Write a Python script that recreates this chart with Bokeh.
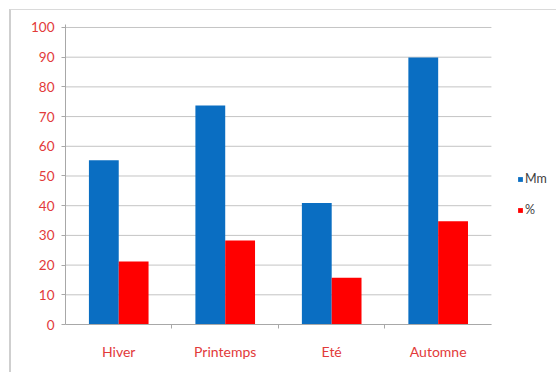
import numpy as np
from bokeh.plotting import figure
from bokeh.models import (ColumnDataSource, Range1d, Legend, LegendItem,
                          LinearAxis, FixedTicker)
from bokeh.embed import file_html
from bokeh.resources import INLINE

# Seasonal rainfall: millimetres and share of the yearly total
seasons = ["Hiver", "Printemps", "Eté", "Automne"]
mm = [55.3, 73.7, 40.9, 89.9]
pct = [21.2, 28.3, 15.7, 34.8]
y_ticks = list(range(0, 101, 10))

FONT = "Lato"
LABEL_RED = "#E23A3A"
GRID = "#C4C4C4"
AXIS = "#A8A8A8"
BAR_W = 0.28

n = len(seasons)
centers = np.arange(n) + 0.5
source = ColumnDataSource(data=dict(
    season=seasons, mm=mm, pct=pct,
    x_mm=centers - BAR_W / 2, x_pct=centers + BAR_W / 2,
))

p = figure(
    x_range=Range1d(0, 4.63),
    y_range=Range1d(0, 101),
    width=547, height=363,
    min_border_left=54, min_border_right=0, min_border_top=14, min_border_bottom=49,
    output_backend="svg", toolbar_location=None,
    x_axis_location=None, y_axis_location=None,
)
p.styles = {"margin-left": "9px", "margin-top": "9px",
            "border-left": "2px solid #CFCFCF", "border-top": "1px solid #DADADA"}
p.outline_line_color = None
p.background_fill_color = "white"
p.border_fill_color = "white"
p.xgrid.visible = False
p.ygrid.visible = False

# Horizontal gridlines spanning the category area only
p.segment(x0=0, x1=n, y0=y_ticks, y1=y_ticks, line_color=GRID, line_width=1)

# Vertical axis with outside ticks
yax = LinearAxis(ticker=FixedTicker(ticks=y_ticks))
yax.axis_line_color = AXIS
yax.major_tick_line_color = AXIS
yax.major_tick_out = 4
yax.major_tick_in = 0
yax.minor_tick_line_color = None
yax.major_label_text_color = LABEL_RED
yax.major_label_text_font = FONT
yax.major_label_text_font_size = "13.5px"
yax.major_label_standoff = 7
p.add_layout(yax, "left")

# Baseline with tick marks between categories (labels not drawn)
tick_axis = LinearAxis(ticker=FixedTicker(ticks=list(range(1, n))), bounds=(0, n))
tick_axis.axis_line_color = AXIS
tick_axis.major_tick_line_color = AXIS
tick_axis.major_tick_out = 4
tick_axis.major_tick_in = 0
tick_axis.minor_tick_line_color = None
tick_axis.major_label_text_color = None
tick_axis.major_label_text_font_size = "1px"
tick_axis.major_label_standoff = 0
p.add_layout(tick_axis, "below")

# Category labels under each pair of bars
cat_axis = LinearAxis(ticker=FixedTicker(ticks=list(centers)))
cat_axis.major_label_overrides = {float(c): s for c, s in zip(centers, seasons)}
cat_axis.axis_line_color = None
cat_axis.major_tick_line_color = None
cat_axis.minor_tick_line_color = None
cat_axis.major_label_text_color = LABEL_RED
cat_axis.major_label_text_font = FONT
cat_axis.major_label_text_font_size = "14px"
cat_axis.major_label_standoff = 8
p.add_layout(cat_axis, "below")

r_mm = p.vbar(x="x_mm", top="mm", width=BAR_W, source=source,
              fill_color="#0A6EC2", line_color=None)
r_pct = p.vbar(x="x_pct", top="pct", width=BAR_W, source=source,
               fill_color="#FF0000", line_color=None)

legend = Legend(items=[LegendItem(label="Mm", renderers=[r_mm]),
                       LegendItem(label="%", renderers=[r_pct])],
                location=(452, 107))
legend.glyph_width = 6
legend.glyph_height = 6
legend.label_text_font = FONT
legend.label_text_font_size = "12.5px"
legend.label_text_color = "#404040"
legend.label_standoff = 2
legend.label_height = 14
legend.spacing = 16
legend.padding = 0
legend.margin = 0
legend.border_line_color = None
legend.background_fill_alpha = 0
p.add_layout(legend, "center")

open("out.html", "w").write(file_html(p, INLINE))
